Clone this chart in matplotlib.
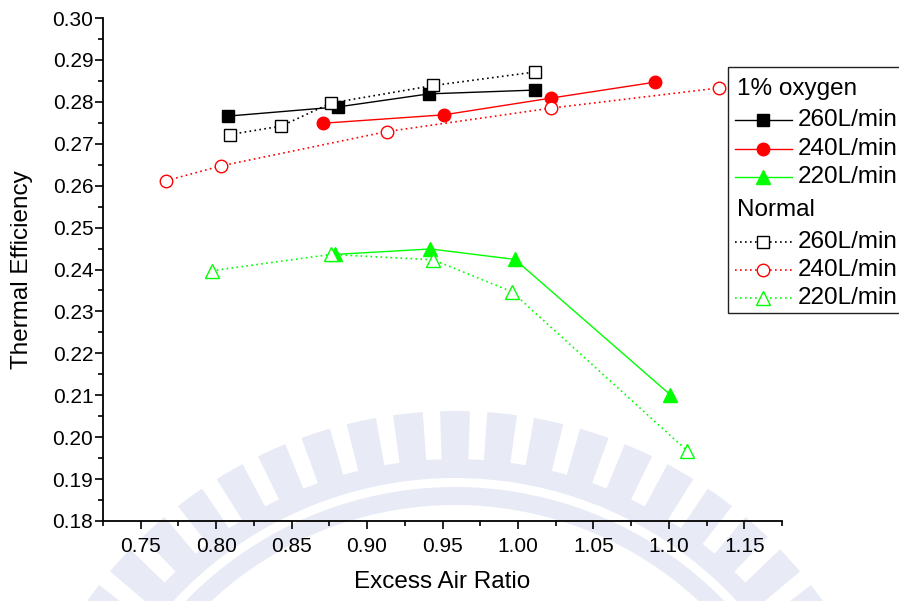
import matplotlib
matplotlib.use("Agg")
import matplotlib.pyplot as plt
import numpy as np
from matplotlib.lines import Line2D
from matplotlib.patches import Rectangle, Wedge
from matplotlib.ticker import FormatStrFormatter, MultipleLocator

plt.rcParams["font.family"] = ["Liberation Sans", "DejaVu Sans"]

# excess air ratio / thermal efficiency, 1% oxygen enrichment
oxy260_x = [0.808, 0.881, 0.941, 1.011]
oxy260_y = [0.2766, 0.2788, 0.2819, 0.2828]
oxy240_x = [0.871, 0.951, 1.022, 1.091]
oxy240_y = [0.2749, 0.2769, 0.2809, 0.2847]
oxy220_x = [0.879, 0.942, 0.998, 1.101]
oxy220_y = [0.2436, 0.2449, 0.2424, 0.2101]

# normal air
norm260_x = [0.809, 0.843, 0.876, 0.944, 1.011]
norm260_y = [0.2722, 0.2742, 0.2797, 0.2839, 0.2871]
norm240_x = [0.767, 0.803, 0.913, 1.022, 1.133]
norm240_y = [0.2612, 0.2647, 0.2729, 0.2785, 0.2833]
norm220_x = [0.797, 0.876, 0.944, 0.996, 1.112]
norm220_y = [0.2397, 0.2436, 0.2423, 0.2347, 0.1968]

flow_labels = ["260L/min", "240L/min", "220L/min"]
colors = ["#000000", "#ff0000", "#00ff00"]
markers = ["s", "o", "^"]
msizes = [8, 9, 10]
DOT = (0, (1, 2))

W, H = 899, 601
fig = plt.figure(figsize=(W / 100, H / 100), dpi=100)

# faint logo in the background (pixel coordinates)
bg = fig.add_axes([0, 0, 1, 1], zorder=0)
bg.set_xlim(0, W)
bg.set_ylim(H, 0)
bg.axis("off")
wm = "#e8ebf6"
cx, cy = 455, 862
for k in range(-12, 13):
    a = 270 + 6 * k
    bg.add_patch(Wedge((cx, cy), 451, a - 1.9, a + 1.9, width=49, color=wm, lw=0))
bg.add_patch(Wedge((cx, cy), 403, 195, 345, width=19, color=wm, lw=0))
bg.add_patch(Wedge((cx, cy), 375, 195, 345, width=18, color=wm, lw=0))

ax = fig.add_axes([103 / W, 1 - 521 / H, (782 - 103) / W, (521 - 18) / H], zorder=1)
ax.patch.set_alpha(0)

for xs, ys, c, m, s in zip([oxy260_x, oxy240_x, oxy220_x], [oxy260_y, oxy240_y, oxy220_y],
                           colors, markers, msizes):
    ax.plot(xs, ys, color=c, lw=1, marker=m, ms=s, mfc=c, mec=c, mew=1)
for xs, ys, c, m, s in zip([norm260_x, norm240_x, norm220_x], [norm260_y, norm240_y, norm220_y],
                           colors, markers, msizes):
    ax.plot(xs, ys, color=c, lw=1.2, ls=DOT, marker=m, ms=s, mfc="white", mec=c, mew=1)

ax.set_xlim(0.725, 1.175)
ax.set_ylim(0.18, 0.30)
ax.xaxis.set_major_locator(MultipleLocator(0.05))
ax.xaxis.set_minor_locator(MultipleLocator(0.025))
ax.yaxis.set_major_locator(MultipleLocator(0.01))
ax.yaxis.set_minor_locator(MultipleLocator(0.005))
ax.xaxis.set_major_formatter(FormatStrFormatter("%.2f"))
ax.yaxis.set_major_formatter(FormatStrFormatter("%.2f"))
ax.tick_params(which="major", direction="out", length=5.5, width=1.2, labelsize=15, pad=1.5)
ax.tick_params(which="minor", direction="out", length=3.5, width=1.2)
ax.tick_params(axis="x", which="major", pad=6)
for side in ["top", "right"]:
    ax.spines[side].set_visible(False)
for side in ["left", "bottom"]:
    ax.spines[side].set_linewidth(1.3)

ax.set_xlabel("Excess Air Ratio", fontsize=17.5)
ax.set_ylabel("Thermal Efficiency", fontsize=17.5)
ax.xaxis.set_label_coords(0.5, -0.100)
ax.yaxis.set_label_coords(-0.103, 0.5)

# legend with group headers
lg = fig.add_axes([0, 0, 1, 1], zorder=2)
lg.set_xlim(0, W)
lg.set_ylim(H, 0)
lg.axis("off")
lg.add_patch(Rectangle((728, 67), 200, 246, fill=False, ec="#222222", lw=1))
rows = [89, 120, 149, 177, 210, 242, 270, 298]
lg.text(737, rows[0], "1% oxygen", fontsize=17.5, va="center")
lg.text(737, rows[4], "Normal", fontsize=17.5, va="center")
for i in range(3):
    for r, ls, face in [(rows[1 + i], "-", colors[i]), (rows[5 + i], DOT, "white")]:
        lg.add_line(Line2D([735, 792], [r, r], color=colors[i], lw=1 if ls == "-" else 1.2, ls=ls))
        lg.add_line(Line2D([763], [r], marker=markers[i], ms=msizes[i], mfc=face,
                           mec=colors[i], mew=1, ls="none"))
        lg.text(798, r, flow_labels[i], fontsize=17.5, va="center")

fig.savefig("out.png", dpi=100)
